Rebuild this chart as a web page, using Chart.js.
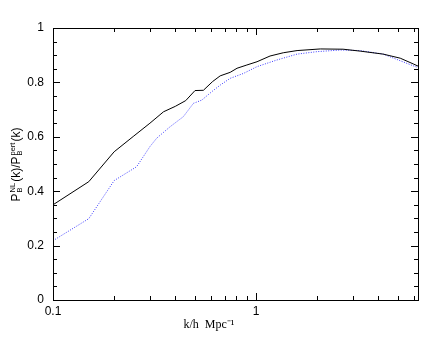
<!DOCTYPE html>
<html>
<head>
<meta charset="utf-8">
<script src="https://cdn.jsdelivr.net/npm/chart.js@4/dist/chart.umd.min.js"></script>
<style>
  html, body { margin: 0; padding: 0; background: #fff; }
  #wrap { width: 448px; height: 346px; }
</style>
</head>
<body>
<div id="wrap"><canvas id="id-grafico"></canvas></div>
<script>
// k values (h/Mpc) and ratio P_NL / P_pert
const kNegro = [0.1, 0.15, 0.2, 0.25, 0.3, 0.35, 0.4, 0.45, 0.5, 0.55, 0.61, 0.665, 0.745, 0.805, 0.9, 1.01, 1.17, 1.36, 1.59, 2.07, 2.68, 3.25, 4.22, 5.12, 5.93, 6.26];
const ratioNegro = [0.350, 0.435, 0.545, 0.603, 0.650, 0.692, 0.712, 0.733, 0.770, 0.771, 0.803, 0.824, 0.837, 0.852, 0.864, 0.876, 0.897, 0.909, 0.917, 0.923, 0.922, 0.915, 0.904, 0.889, 0.868, 0.860];

const kAzul = [0.1, 0.15, 0.2, 0.258, 0.3, 0.324, 0.377, 0.438, 0.491, 0.54, 0.605, 0.665, 0.745, 0.866, 1.01, 1.26, 1.59, 1.99, 2.59, 3.25, 4.22, 5.93, 6.26];
const ratioAzul = [0.218, 0.299, 0.439, 0.490, 0.564, 0.595, 0.637, 0.674, 0.723, 0.735, 0.766, 0.790, 0.815, 0.833, 0.858, 0.882, 0.904, 0.913, 0.919, 0.917, 0.904, 0.861, 0.855];

const xMin = 0.1, xMax = 6.26;
const yMin = 0, yMax = 1;
const xLabels = [0.1, 1];
const yLabels = [0, 0.2, 0.4, 0.6, 0.8, 1];

function puntos(ks, vs) {
    return ks.map((k, i) => ({x: k, y: vs[i]}));
}

// frame + inward ticks on all four sides
const marco = {
    id: 'marco',
    afterDraw(chart) {
        const ctx = chart.ctx;
        const a = chart.chartArea;
        const sx = chart.scales.x, sy = chart.scales.y;
        ctx.save();
        ctx.strokeStyle = '#000';
        ctx.lineWidth = 1;
        ctx.strokeRect(a.left + 0.5, a.top + 0.5, a.right - a.left, a.bottom - a.top);
        ctx.beginPath();
        // x ticks
        let xt = [];
        for (let d = 0.1; d < 10; d *= 10) {
            for (let m = 1; m <= 9; m++) xt.push({v: m * d, major: m === 1});
        }
        for (const t of xt) {
            if (t.v < xMin - 1e-9 || t.v > xMax) continue;
            const px = Math.round(sx.getPixelForValue(t.v)) + 0.5;
            const len = t.major ? 7 : 4;
            ctx.moveTo(px, a.bottom); ctx.lineTo(px, a.bottom - len);
            ctx.moveTo(px, a.top); ctx.lineTo(px, a.top + len);
        }
        // y ticks
        for (let i = 0; i <= 20; i++) {
            const v = i * 0.05;
            const py = Math.round(sy.getPixelForValue(v)) + 0.5;
            const len = (i % 4 === 0) ? 7 : 4;
            ctx.moveTo(a.left, py); ctx.lineTo(a.left + len, py);
            ctx.moveTo(a.right, py); ctx.lineTo(a.right - len, py);
        }
        ctx.stroke();

        // x title
        ctx.fillStyle = '#000';
        ctx.font = '12px "Liberation Serif"';
        ctx.textAlign = 'center';
        ctx.textBaseline = 'middle';
        ctx.fillText('k/h  Mpc⁻¹', 209, 325);

        // y title with sub/superscripts
        ctx.translate(17, (a.top + a.bottom) / 2);
        ctx.rotate(-Math.PI / 2);
        const big = '12px "Liberation Sans"', small = '7.5px "Liberation Sans"';
        const partes = [
            {t: 'P', f: big, dy: 0},
            {t: 'B', f: small, dy: 3, sup: 'NL'},
            {t: '(k)/P', f: big, dy: 0},
            {t: 'B', f: small, dy: 3, sup: 'pert'},
            {t: '(k)', f: big, dy: 0}
        ];
        let ancho = 0;
        for (const p of partes) {
            ctx.font = p.f;
            let w = ctx.measureText(p.t).width;
            if (p.sup) w = Math.max(w, ctx.measureText(p.sup).width);
            p.w = w;
            ancho += w + 1;
        }
        let x = -ancho / 2;
        ctx.textAlign = 'left';
        for (const p of partes) {
            ctx.font = p.f;
            ctx.fillText(p.t, x, p.dy);
            if (p.sup) ctx.fillText(p.sup, x, -4);
            x += p.w + 1;
        }
        ctx.restore();
    }
};

new Chart('id-grafico', {
    type: 'line',
    data: {
        datasets: [
            {
                label: 'negro',
                data: puntos(kNegro, ratioNegro),
                borderColor: '#000',
                borderWidth: 1,
                pointRadius: 0,
                tension: 0
            },
            {
                label: 'azul',
                data: puntos(kAzul, ratioAzul),
                borderColor: '#3b3bff',
                borderWidth: 1,
                borderDash: [1, 1.5],
                pointRadius: 0,
                tension: 0
            }
        ]
    },
    plugins: [marco],
    options: {
        responsive: true,
        maintainAspectRatio: false,
        animation: false,
        layout: { padding: { top: 28, right: 30, left: 0, bottom: 0 } },
        plugins: { legend: { display: false }, tooltip: { enabled: false } },
        scales: {
            x: {
                type: 'logarithmic',
                min: xMin,
                max: xMax,
                grid: { display: false, drawTicks: false },
                border: { display: false },
                afterBuildTicks: (s) => { s.ticks = xLabels.map(v => ({value: v})); },
                afterFit: (s) => { s.height = 46; },
                ticks: {
                    autoSkip: false,
                    maxRotation: 0,
                    padding: 4,
                    color: '#000',
                    font: { family: 'Liberation Sans', size: 12 },
                    callback: (v) => String(v)
                }
            },
            y: {
                min: yMin,
                max: yMax,
                grid: { display: false, drawTicks: false },
                border: { display: false },
                afterBuildTicks: (s) => { s.ticks = yLabels.map(v => ({value: v})); },
                afterFit: (s) => { s.width = 53; },
                ticks: {
                    padding: 9,
                    color: '#000',
                    font: { family: 'Liberation Sans', size: 12 },
                    callback: (v) => String(Math.round(v * 10) / 10)
                }
            }
        }
    }
});
</script>
</body>
</html>
